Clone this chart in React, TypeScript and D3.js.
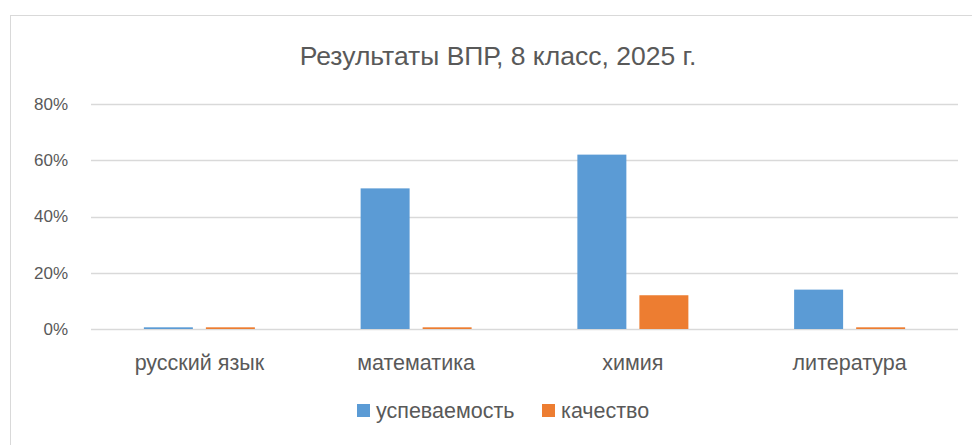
import React, { useEffect, useRef } from 'react';
import * as d3 from 'd3';

const title = 'Результаты ВПР, 8 класс, 2025 г.';
const categories = ['русский язык', 'математика', 'химия', 'литература'];
const seriesNames = ['успеваемость', 'качество'];
const uspevaemost = [0.006, 0.5, 0.62, 0.14];
const kachestvo = [0.006, 0.006, 0.12, 0.006];
const yTicks = [0, 0.2, 0.4, 0.6, 0.8];
const colors = ['#5B9BD5', '#ED7D31'];

const FONT = "'Liberation Sans', Arial, sans-serif";

function App() {
  const ref = useRef<SVGSVGElement>(null);

  useEffect(() => {
    if (!ref.current) return;
    const width = 972;
    const height = 445;
    const margin = { top: 104, right: 14, bottom: 116, left: 91 };

    const svg = d3.select(ref.current);
    svg.selectAll('*').remove();

    // chart frame
    svg.append('rect')
      .attr('x', 10.5).attr('y', 15.5)
      .attr('width', 1000).attr('height', 500)
      .attr('fill', '#fff')
      .attr('stroke', '#d9d9d9');

    svg.append('text')
      .attr('x', 498).attr('y', 65)
      .attr('text-anchor', 'middle')
      .style('font-family', FONT)
      .style('font-size', '26.5px')
      .attr('fill', '#595959')
      .text(title);

    const x0 = d3.scaleBand()
      .domain(categories)
      .range([margin.left, width - margin.right])
      .padding(0);

    const x1 = d3.scaleBand()
      .domain(seriesNames)
      .range([-55.5, 55.5])
      .paddingInner(0.21);

    const y = d3.scaleLinear()
      .domain([0, 0.8])
      .range([height - margin.bottom, margin.top]);

    // gridlines
    svg.append('g')
      .selectAll('line')
      .data(yTicks)
      .join('line')
      .attr('x1', margin.left).attr('x2', width - margin.right)
      .attr('y1', d => Math.round(y(d)) + 0.5)
      .attr('y2', d => Math.round(y(d)) + 0.5)
      .attr('stroke', '#d9d9d9')
      .attr('stroke-width', 1.3);

    // y tick labels
    svg.append('g')
      .selectAll('text')
      .data(yTicks)
      .join('text')
      .attr('x', 68)
      .attr('y', d => y(d))
      .attr('dy', '0.35em')
      .attr('text-anchor', 'end')
      .style('font-family', FONT)
      .style('font-size', '17px')
      .attr('fill', '#595959')
      .text(d => d3.format('.0%')(d));

    const seriesData = [uspevaemost, kachestvo];

    // bars
    seriesNames.forEach((s, si) => {
      svg.append('g')
        .selectAll('rect')
        .data(categories)
        .join('rect')
        .attr('x', (c) => (x0(c) as number) + x0.bandwidth() / 2 + (x1(s) as number))
        .attr('width', x1.bandwidth())
        .attr('y', (c, i) => y(seriesData[si][i]))
        .attr('height', (c, i) => y(0) - y(seriesData[si][i]))
        .attr('fill', colors[si]);
    });

    // category labels
    svg.append('g')
      .selectAll('text')
      .data(categories)
      .join('text')
      .attr('x', c => (x0(c) as number) + x0.bandwidth() / 2)
      .attr('y', 370)
      .attr('text-anchor', 'middle')
      .style('font-family', FONT)
      .style('font-size', '21.5px')
      .attr('fill', '#595959')
      .text(c => c);

    // legend
    const legendItems = [
      { name: seriesNames[0], color: colors[0], x: 357 },
      { name: seriesNames[1], color: colors[1], x: 542 },
    ];
    const lg = svg.append('g');
    legendItems.forEach(it => {
      lg.append('rect')
        .attr('x', it.x).attr('y', 404)
        .attr('width', 13).attr('height', 13)
        .attr('fill', it.color);
      lg.append('text')
        .attr('x', it.x + 19).attr('y', 418)
        .style('font-family', FONT)
        .style('font-size', '21.5px')
        .attr('fill', '#595959')
        .text(it.name);
    });
  }, []);

  return (
    <svg
      ref={ref}
      width={972}
      height={445}
      style={{ position: 'absolute', left: 0, top: 0, background: '#fff' }}
    />
  );
}

export default App;
